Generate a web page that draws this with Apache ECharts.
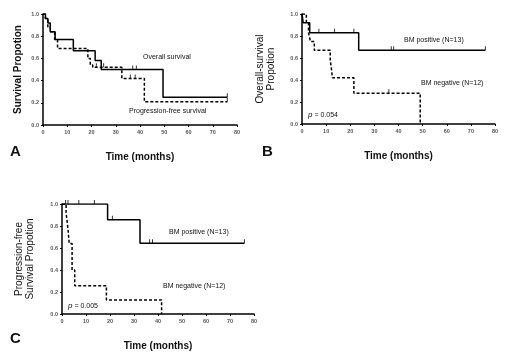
<!DOCTYPE html>
<html>
<head>
<meta charset="utf-8">
<script src="https://cdn.jsdelivr.net/npm/echarts@6/dist/echarts.min.js"></script>
<style>
  html, body { margin: 0; padding: 0; background: #fff; }
  #chart { width: 509px; height: 354px; }
</style>
</head>
<body>
<div id="chart"></div>
<script>
  // step points: [time, survival after the event]
  const aOverall = [[0, 1], [1, 0.96], [2, 0.92], [3, 0.84], [5, 0.77], [12.5, 0.67], [21.5, 0.58], [24, 0.5], [49.5, 0.25], [76, 0.25]]
  const aProgFree = [[0, 1], [1, 0.96], [2, 0.88], [3, 0.84], [4.8, 0.77], [6, 0.69], [18.5, 0.6], [19.5, 0.54], [20.5, 0.52], [32.5, 0.42], [41.8, 0.21], [76, 0.21]]
  const aOverallCens = [[37, 0.5], [38.5, 0.5], [76, 0.25]]
  const aProgFreeCens = [[22, 0.52], [25, 0.52], [36, 0.42], [38, 0.42], [76, 0.21]]

  const bPositive = [[0, 1], [0.5, 0.92], [3.2, 0.83], [23.5, 0.67], [76, 0.67]]
  const bNegative = [[0, 1], [1.8, 0.92], [2.7, 0.83], [3.5, 0.75], [5.1, 0.67], [11.7, 0.58], [12.2, 0.5], [12.6, 0.42], [21.5, 0.28], [49, 0]]
  const bPositiveCens = [[7, 0.83], [13.5, 0.83], [21.5, 0.83], [37, 0.67], [38, 0.67], [76, 0.67]]
  const bNegativeCens = [[36, 0.28]]

  const cPositive = [[0, 1], [19, 0.857], [32.5, 0.643], [76, 0.643]]
  const cNegative = [[0, 1], [1.7, 0.92], [2.2, 0.83], [2.6, 0.75], [3, 0.64], [4.2, 0.4], [5.3, 0.257], [18.5, 0.128], [41.5, 0]]
  const cPositiveCens = [[1.5, 1], [2.5, 1], [7, 1], [13.5, 1], [21, 0.857], [36.5, 0.643], [37.7, 0.643], [76, 0.643]]

  const xTicks = { min: 0, max: 80, interval: 10 }
  const yTicks = { min: 0, max: 1, interval: 0.2 }

  const font = 'Liberation Sans, Arial, sans-serif'
  const chart = echarts.init(document.getElementById('chart'))

  function xAxis(gridIndex) {
    return {
      type: 'value', gridIndex: gridIndex,
      min: xTicks.min, max: xTicks.max, interval: xTicks.interval,
      name: 'Time (months)', nameLocation: 'middle', nameGap: 27,
      nameTextStyle: { fontFamily: font, fontSize: 10, fontWeight: 'bold', color: '#111' },
      axisLine: { lineStyle: { color: '#000', width: 1.5 } },
      axisTick: { length: 2, lineStyle: { color: '#000' } },
      axisLabel: { fontFamily: font, fontSize: 5.5, fontWeight: 'bold', color: '#555', margin: 4 },
      splitLine: { show: false }
    }
  }
  function yAxis(gridIndex, name, gap, weight) {
    return {
      type: 'value', gridIndex: gridIndex,
      min: yTicks.min, max: yTicks.max, interval: yTicks.interval,
      name: name, nameLocation: 'middle', nameRotate: 90, nameGap: gap,
      nameTextStyle: { fontFamily: font, fontSize: 10, fontWeight: weight, color: '#111', lineHeight: 11 },
      axisLine: { lineStyle: { color: '#000', width: 1.5 } },
      axisTick: { length: 2, lineStyle: { color: '#000' } },
      axisLabel: { fontFamily: font, fontSize: 5.5, fontWeight: 'bold', color: '#555', margin: 4, formatter: v => v.toFixed(1) },
      splitLine: { show: false }
    }
  }
  function stepLine(idx, data, dashed) {
    return {
      type: 'line', xAxisIndex: idx, yAxisIndex: idx, step: 'end', data: data,
      symbol: 'none', silent: true,
      lineStyle: { color: '#000', width: 1.5, type: dashed ? [3, 2] : 'solid' }
    }
  }
  function censors(idx, data) {
    return {
      type: 'scatter', xAxisIndex: idx, yAxisIndex: idx, data: data,
      symbol: 'rect', symbolSize: [1, 4], symbolOffset: [0, -2],
      itemStyle: { color: '#000' }, silent: true
    }
  }
  function note(x, y, text, size, weight) {
    return {
      type: 'text', left: x, top: y,
      style: {
        text: text, fontFamily: font, fontSize: size, fontWeight: weight || 'normal', fill: '#111',
        rich: { i: { fontFamily: font, fontSize: size + 1, fontStyle: 'italic', fill: '#111' } }
      }
    }
  }

  chart.setOption({
    backgroundColor: '#fff',
    animation: false,
    grid: [
      { left: 43, top: 14, width: 194, height: 111 },
      { left: 302, top: 14, width: 193, height: 110 },
      { left: 62, top: 204, width: 192, height: 110 }
    ],
    xAxis: [xAxis(0), xAxis(1), xAxis(2)],
    yAxis: [
      yAxis(0, 'Survival Propotion', 19, 'bold'),
      yAxis(1, 'Overall-survival\nPropotion', 25, 'normal'),
      yAxis(2, 'Progression-free\nSurvival Propotion', 26, 'normal')
    ],
    series: [
      stepLine(0, aOverall, false),
      stepLine(0, aProgFree, true),
      censors(0, aOverallCens),
      censors(0, aProgFreeCens),
      stepLine(1, bPositive, false),
      stepLine(1, bNegative, true),
      censors(1, bPositiveCens),
      censors(1, bNegativeCens),
      stepLine(2, cPositive, false),
      stepLine(2, cNegative, true),
      censors(2, cPositiveCens)
    ],
    graphic: [
      note(10, 144, 'A', 15, 'bold'),
      note(262, 144, 'B', 15, 'bold'),
      note(10, 331, 'C', 15, 'bold'),
      note(143, 54, 'Overall survival', 7),
      note(129, 108, 'Progression-free survival', 7),
      note(404, 37, 'BM positive (N=13)', 7),
      note(421, 80, 'BM negative (N=12)', 7),
      note(308, 111, '{i|p} = 0.054', 7),
      note(169, 229, 'BM positive (N=13)', 7),
      note(163, 283, 'BM negative (N=12)', 7),
      note(68, 302, '{i|p} = 0.005', 7)
    ]
  })
</script>
</body>
</html>
